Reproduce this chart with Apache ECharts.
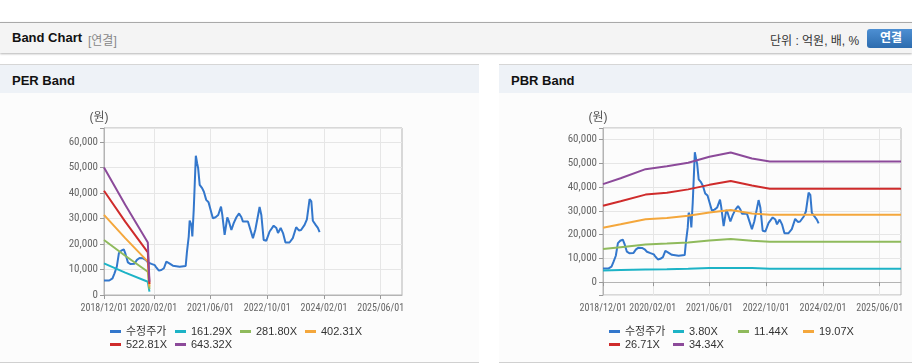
<!DOCTYPE html>
<html>
<head>
<meta charset="utf-8">
<script src="https://cdn.jsdelivr.net/npm/echarts@6.0.0/dist/echarts.min.js"></script>
<style>
    body { margin: 0; width: 912px; height: 364px; overflow: hidden; background: #fff; position: relative;
           font-family: "Liberation Sans", "Noto Sans CJK KR", sans-serif; }
    .hdr { position: absolute; left: 0; top: 22px; width: 912px; height: 30px; background: #f4f4f4;
           border-top: 1px solid #a9a9a9; box-shadow: 0 1px 2px #b5b5b5; }
    .hdr .ttl { position: absolute; left: 12px; top: 7px; font-size: 13px; font-weight: bold; color: #111; }
    .hdr .sub { position: absolute; left: 88px; top: 8px; font-size: 12px; color: #888; }
    .hdr .unit { position: absolute; left: 770px; top: 8px; font-size: 12px; color: #333; }
    .hdr .btn { position: absolute; left: 867px; top: 6px; width: 52px; height: 19px; border-radius: 3px;
                background: linear-gradient(#4d8fd3, #2d6cae); color: #fff; font-size: 12px; font-weight: bold;
                line-height: 19px; text-indent: 13px; }
    .panel { position: absolute; top: 64px; height: 297px; background: #fcfcfc;
             border-top: 1px solid #d6d6d6; border-bottom: 1px solid #d0d0d0; }
    .panel .bar { height: 28px; background: #eef2f7; }
    .panel .bar span { position: absolute; left: 12px; top: 8px; font-size: 13px; font-weight: bold; color: #111; }
    .chart { position: absolute; top: 93px; height: 268px; }
</style>
</head>
<body>
<div class="hdr">
    <span class="ttl">Band Chart</span><span class="sub">[연결]</span>
    <span class="unit">단위 : 억원, 배, %</span>
    <div class="btn">연결</div>
</div>
<div class="panel" style="left:0;width:479px"><div class="bar"><span>PER Band</span></div></div>
<div class="panel" style="left:499px;width:413px"><div class="bar"><span>PBR Band</span></div></div>
<div id="J-per" class="chart" style="left:0;width:479px"></div>
<div id="J-pbr" class="chart" style="left:499px;width:413px"></div>

<script>
// 수정주가
const priceDates = ['2018-12-01','2019-01-15','2019-02-12','2019-03-01','2019-03-21','2019-04-08','2019-04-28','2019-05-20',
    '2019-06-04','2019-06-24','2019-07-14','2019-08-20','2019-09-10','2019-10-02','2019-11-01','2019-11-23','2019-12-13',
    '2020-01-12','2020-02-10','2020-02-24','2020-03-16','2020-04-06','2020-04-28','2020-05-19','2020-06-10','2020-07-14',
    '2020-07-29','2020-09-10','2020-11-01','2020-11-12','2020-11-27','2020-12-05','2020-12-20','2020-12-28','2021-01-09',
    '2021-01-18','2021-01-27','2021-02-07','2021-02-16','2021-03-01','2021-03-22','2021-04-06','2021-04-26','2021-05-16',
    '2021-06-01','2021-06-22','2021-07-15','2021-08-07','2021-08-31','2021-09-11','2021-10-01','2021-10-24','2021-11-05',
    '2021-11-28','2021-12-18','2022-01-10','2022-02-02','2022-02-22','2022-03-07','2022-04-19','2022-05-03','2022-06-01',
    '2022-06-21','2022-07-13','2022-07-28','2022-08-12','2022-09-01','2022-09-24','2022-10-22','2022-11-26','2022-12-19',
    '2023-01-02','2023-01-25','2023-02-14','2023-03-07','2023-04-11','2023-05-09','2023-06-07','2023-06-30','2023-07-19',
    '2023-08-18','2023-09-07','2023-09-30','2023-10-15','2023-10-28','2023-11-21','2023-12-10','2023-12-25'];
const priceValues = [5700, 5700, 6550, 8500, 11100, 16400, 17400, 17900,
    16000, 12800, 12200, 12300, 13800, 14500, 14400, 13800, 12800,
    12200, 11700, 10700, 9550, 9800, 10500, 13100, 12500, 11500,
    11100, 11100, 11400, 17000, 22900, 29200, 27500, 23000, 33500,
    44000, 54600, 51700, 49700, 43200, 41900, 40500, 37300, 36400,
    36000, 30100, 30500, 31400, 34700, 31400, 23600, 30400, 29100,
    25500, 28200, 30500, 32000, 30500, 28800, 28800, 29200, 22300,
    25500, 30800, 34500, 31400, 21600, 21300, 24900, 27200, 26300,
    24300, 26300, 24300, 20600, 20600, 22300, 26600, 25300, 25500,
    27500, 29700, 37600, 36700, 29100, 27500, 26300, 24700];

// PER 밴드
const perNames = ['161.29X', '281.80X', '402.31X', '522.81X', '643.32X'];
const perDates = ['2018-12-01', '2019-06-01', '2019-12-12', '2019-12-26'];
const per161 = [12400, 8800, 5200, 1300];
const per281 = [21600, 15400, 9100, 2300];
const per402 = [31400, 22300, 13100, 3300];
const per522 = [40900, 28800, 16700, 4300];
const per643 = [50000, 35400, 20600, 5200];

// PBR 밴드
const pbrNames = ['3.80X', '11.44X', '19.07X', '26.71X', '34.34X'];
const pbrDates = ['2018-12-01', '2019-05-01', '2019-12-01', '2020-06-01', '2020-12-01',
    '2021-06-01', '2021-12-01', '2022-06-01', '2022-11-01', '2025-12-01'];
const pbr380  = [4900, 5100, 5300, 5400, 5600, 5900, 6000, 5900, 5600, 5600];
const pbr1144 = [13900, 14700, 15800, 16200, 16700, 17500, 18100, 17400, 17000, 17000];
const pbr1907 = [22900, 24300, 26400, 27000, 27900, 29300, 30300, 28900, 28300, 28300];
const pbr2671 = [32100, 34000, 36800, 37600, 39000, 40900, 42500, 40600, 39300, 39300];
const pbr3434 = [41200, 43700, 47500, 48700, 50200, 52700, 54500, 52000, 50700, 50700];

const tickDates = ['2018-12-01', '2020-02-01', '2021-06-01', '2022-10-01', '2024-02-01', '2025-06-01'];
const xStart = '2018-12-01';
const xEnd = '2025-12-01';

const COLORS = ['#3377cc', '#1db3c6', '#8fba5c', '#f4a73c', '#cf2b2b', '#8c4a9a'];
const FONT = '"Liberation Sans", "Noto Sans CJK KR", sans-serif';
const NARROW = '"Liberation Sans Narrow", "Roboto Condensed", "DejaVu Sans Condensed", sans-serif';

function pairs(dates, values) {
    return dates.map((d, i) => [Date.parse(d), values[i]]);
}
function fmtDate(v) {
    const d = new Date(v);
    const p = n => String(n).padStart(2, '0');
    return d.getUTCFullYear() + '/' + p(d.getUTCMonth() + 1) + '/' + p(d.getUTCDate());
}

function bandOption(bandNames, bandDates, bands, yMin, yMax, lefts) {
    const names = ['수정주가'].concat(bandNames);
    const series = [{
        name: names[0], type: 'line', data: pairs(priceDates, priceValues),
        showSymbol: false, lineStyle: { width: 2 }
    }];
    bands.forEach((b, i) => {
        series.push({
            name: bandNames[i], type: 'line', data: pairs(bandDates, b),
            showSymbol: false, lineStyle: { width: 2 }
        });
    });
    // 범례 위치
    const tops = [228, 228, 228, 228, 241, 241];
    const legend = names.map((n, i) => ({
        data: [n], left: lefts[i], top: tops[i],
        icon: 'rect', itemWidth: 11, itemHeight: 3,
        textStyle: { fontSize: 11, color: '#333', fontFamily: FONT }
    }));
    const ticks = tickDates.map(Date.parse);
    const xLabel = { formatter: fmtDate, color: '#666', fontSize: 10, margin: 8, fontFamily: NARROW };
    return {
        color: COLORS,
        animation: false,
        textStyle: { fontFamily: FONT },
        legend: legend,
        grid: { left: 104, top: 35, width: 298, height: 167, show: true, borderColor: '#b4b4b4', borderWidth: 1 },
        xAxis: [{
            type: 'value',
            min: Date.parse(xStart), max: Date.parse(xEnd),
            axisLine: { lineStyle: { color: '#b4b4b4' } },
            axisTick: { show: true, length: 4, lineStyle: { color: '#999' }, customValues: ticks },
            axisLabel: Object.assign({ customValues: ticks.slice(1) }, xLabel),
            splitLine: { show: true, lineStyle: { color: '#e6e6e6' } }
        }, {
            // 첫 눈금 라벨만 따로 (겹침 숨김 회피)
            type: 'value', position: 'bottom',
            min: Date.parse(xStart), max: Date.parse(xEnd),
            axisLine: { show: false }, axisTick: { show: false }, splitLine: { show: false },
            axisLabel: Object.assign({ customValues: ticks.slice(0, 1) }, xLabel)
        }],
        yAxis: {
            type: 'value',
            min: yMin, max: yMax,
            minInterval: 10000, maxInterval: 10000,
            name: '(원)', nameGap: 4,
            nameTextStyle: { color: '#555', fontSize: 12, align: 'center', padding: [0, 10, 0, 0] },
            axisLine: { show: true, lineStyle: { color: '#b4b4b4' } },
            axisTick: { show: true, length: 4, lineStyle: { color: '#999' } },
            axisLabel: {
                color: '#666', fontSize: 11, margin: 6, fontFamily: NARROW,
                formatter: v => (v % 10000 === 0 ? v.toLocaleString('en-US') : '')
            },
            splitLine: { lineStyle: { color: '#e6e6e6' } }
        },
        series: series
    };
}

const perChart = echarts.init(document.getElementById('J-per'));
perChart.setOption(bandOption(perNames, perDates, [per161, per281, per402, per522, per643],
    0, 65500, [105, 170, 235, 300, 105, 170]));

const pbrChart = echarts.init(document.getElementById('J-pbr'));
pbrChart.setOption(bandOption(pbrNames, pbrDates, [pbr380, pbr1144, pbr1907, pbr2671, pbr3434],
    -5400, 64800, [105, 169, 234, 299, 105, 169]));
</script>
</body>
</html>
